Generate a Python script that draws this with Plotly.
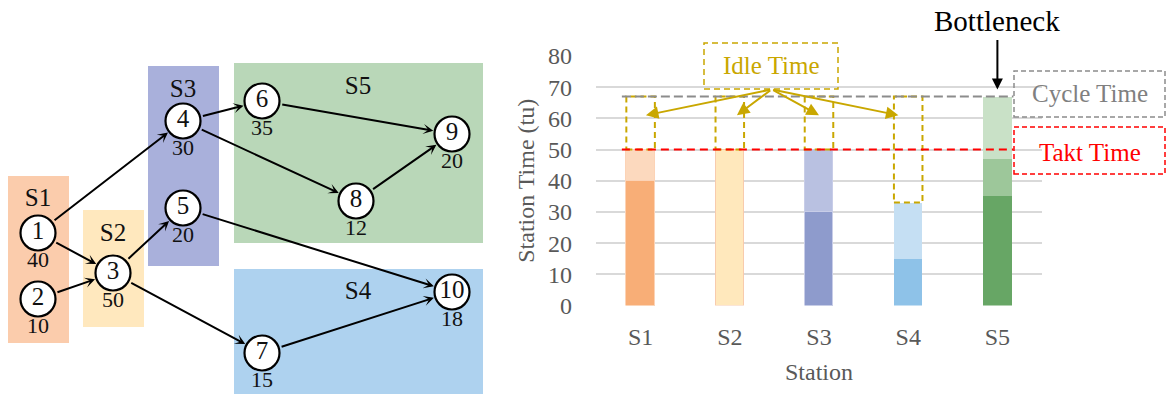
import plotly.graph_objects as go

W, H = 1168, 394
FONT = "Liberation Serif, Times New Roman, serif"
GOLD = "#C9A700"

# ---- precedence graph -------------------------------------------------
task_ids = [1, 2, 3, 4, 5, 6, 7, 8, 9, 10]
task_times = [40, 10, 50, 30, 20, 35, 15, 12, 20, 18]
node_x = [38, 38, 113, 183, 183, 262, 262, 356, 452, 452]
node_y = [233, 299, 273, 121, 208, 101, 353, 201, 134, 292]
edges = [(1, 3), (1, 4), (2, 3), (3, 5), (3, 7), (4, 6), (4, 8),
         (5, 10), (6, 9), (8, 9), (7, 10)]

# ---- stations ---------------------------------------------------------
stations = ["S1", "S2", "S3", "S4", "S5"]
station_tasks = [[1, 2], [3], [4, 5], [7, 10], [6, 8, 9]]
area_x0 = [8, 83, 148, 234, 234]
area_x1 = [69, 144, 219, 483, 483]
area_y0 = [176, 210, 66, 269, 63]
area_y1 = [343, 327, 266, 394, 243]
area_label_x = [38, 113, 183, 358, 358]
area_label_y = [200, 235, 91, 293, 88]
area_colors = ["#FBCCAC", "#FFE8BE", "#A9B0DB", "#AED2EF", "#B9D7B8"]

# bar segment colours, bottom to top
segment_colors = [["#F8AE77", "#FCD9BE"],
                  ["#FFE8BC"],
                  ["#8E9BCC", "#B9C1E1"],
                  ["#8EC2E8", "#C5DFF3"],
                  ["#67A665", "#9DC79A", "#C9E1C7"]]
bar_edge_colors = ["#FCD3B6", "#F8CBAD", "#C8CDE8", "#C5DFF3", "#C9E1C7"]
bar_edge_widths = [1, 1.5, 1, 0, 0]

takt_time = 50
y_ticks = [0, 10, 20, 30, 40, 50, 60, 70, 80]

time_of = dict(zip(task_ids, task_times))
station_totals = [sum(time_of[t] for t in ts) for ts in station_tasks]
cycle_time = max(station_totals)
bottleneck = station_totals.index(cycle_time)

# idle-time arrow tips (offset within each idle box, value level)
idle_tip_dx = [0.06, 0.08, 0.0, -0.11, 0.0]
idle_tip_y = 61
idle_tail = (1.47, 69.3)

BAR_W = 0.32


def px(x):
    return x / W


def py(y):
    return 1 - y / H


fig = go.Figure()

# station areas behind the graph
for i in range(len(stations)):
    fig.add_shape(type="rect", xref="x2", yref="y2",
                  x0=area_x0[i], x1=area_x1[i], y0=area_y0[i], y1=area_y1[i],
                  fillcolor=area_colors[i], line_width=0, layer="below")

fig.add_trace(go.Scatter(
    x=area_label_x, y=area_label_y, xaxis="x2", yaxis="y2",
    mode="text", text=stations, textposition="middle center",
    textfont=dict(family=FONT, size=25, color="#111111"),
    hoverinfo="skip", showlegend=False))

# task nodes
fig.add_trace(go.Scatter(
    x=node_x, y=node_y, xaxis="x2", yaxis="y2",
    mode="markers+text", text=[str(t) for t in task_ids],
    textposition="middle center",
    textfont=dict(family=FONT, size=25, color="#111111"),
    marker=dict(size=35, color="white", line=dict(color="black", width=2.2)),
    hoverinfo="skip", showlegend=False))

# task times under nodes
fig.add_trace(go.Scatter(
    x=node_x, y=[y + 28 for y in node_y], xaxis="x2", yaxis="y2",
    mode="text", text=[str(t) for t in task_times],
    textposition="middle center",
    textfont=dict(family=FONT, size=22, color="#111111"),
    hoverinfo="skip", showlegend=False))

for a, b in edges:
    fig.add_annotation(
        xref="x2", yref="y2", axref="x2", ayref="y2",
        x=node_x[b - 1], y=node_y[b - 1], ax=node_x[a - 1], ay=node_y[a - 1],
        text="", showarrow=True, arrowhead=3, arrowsize=0.85, arrowwidth=2,
        arrowcolor="black", standoff=19, startstandoff=19)

# ---- stacked station-time bars ---------------------------------------
n_layers = max(len(ts) for ts in station_tasks)
for k in range(n_layers):
    vals, cols, lcols, lws = [], [], [], []
    for s, ts in enumerate(station_tasks):
        if k < len(ts):
            vals.append(time_of[ts[k]])
            cols.append(segment_colors[s][k])
            lcols.append(bar_edge_colors[s])
            lws.append(bar_edge_widths[s])
        else:
            vals.append(None)
            cols.append("rgba(0,0,0,0)")
            lcols.append("rgba(0,0,0,0)")
            lws.append(0)
    fig.add_trace(go.Bar(
        x=stations, y=vals, width=BAR_W,
        marker=dict(color=cols, line=dict(color=lcols, width=lws)),
        hoverinfo="skip", showlegend=False))

# idle-time boxes between station time and cycle time
for i, tot in enumerate(station_totals):
    if tot < cycle_time:
        fig.add_shape(type="rect", xref="x", yref="y",
                      x0=i - BAR_W / 2, x1=i + BAR_W / 2, y0=tot, y1=cycle_time,
                      line=dict(color=GOLD, width=2, dash="6px,4px"))

# cycle time and takt time lines
line_x0 = -0.21
line_x1 = bottleneck + 0.18
fig.add_shape(type="line", xref="x", yref="y", x0=line_x0, x1=line_x1,
              y0=cycle_time, y1=cycle_time,
              line=dict(color="#8C8C8C", width=2, dash="9px,4px"))
fig.add_shape(type="line", xref="x", yref="y", x0=line_x0, x1=line_x1,
              y0=takt_time, y1=takt_time,
              line=dict(color="#FF0000", width=2, dash="8px,5px"))

# callout boxes
fig.add_shape(type="rect", xref="paper", yref="paper",
              x0=px(1014), x1=px(1165), y0=py(117), y1=py(71),
              line=dict(color="#8C8C8C", width=1.5, dash="5px,3px"))
fig.add_annotation(xref="paper", yref="paper", x=px(1090), y=py(94),
                   xanchor="center", yanchor="middle",
                   text="Cycle Time", showarrow=False,
                   font=dict(family=FONT, size=25, color="#808080"))
fig.add_shape(type="rect", xref="paper", yref="paper",
              x0=px(1014), x1=px(1165), y0=py(174), y1=py(127),
              line=dict(color="#FF0000", width=1.5, dash="5px,3px"))
fig.add_annotation(xref="paper", yref="paper", x=px(1090), y=py(152),
                   xanchor="center", yanchor="middle",
                   text="Takt Time", showarrow=False,
                   font=dict(family=FONT, size=25, color="#FF0000"))
fig.add_shape(type="rect", xref="paper", yref="paper",
              x0=px(704), x1=px(838), y0=py(89), y1=py(43),
              line=dict(color=GOLD, width=1.5, dash="6px,4px"))
fig.add_annotation(xref="paper", yref="paper", x=px(771), y=py(66),
                   xanchor="center", yanchor="middle",
                   text="Idle Time", showarrow=False,
                   font=dict(family=FONT, size=25, color=GOLD))

for i, tot in enumerate(station_totals):
    if tot < cycle_time:
        fig.add_annotation(
            xref="x", yref="y", axref="x", ayref="y",
            x=i + idle_tip_dx[i], y=idle_tip_y,
            ax=idle_tail[0], ay=idle_tail[1],
            text="", showarrow=True, arrowhead=2, arrowsize=1.25,
            arrowwidth=2, arrowcolor=GOLD)

# bottleneck marker
fig.add_annotation(xref="x", yref="y", x=bottleneck, y=cycle_time,
                   ax=0, ay=-76, text="Bottleneck", showarrow=True,
                   arrowhead=2, arrowsize=1.1, arrowwidth=2,
                   arrowcolor="black", standoff=7, borderpad=3,
                   font=dict(family=FONT, size=29, color="black"))

fig.update_layout(
    width=W, height=H,
    margin=dict(l=0, r=0, t=0, b=0, autoexpand=False),
    paper_bgcolor="white", plot_bgcolor="rgba(0,0,0,0)",
    barmode="stack", bargap=0,
    font=dict(family=FONT, color="#595959"),
    xaxis=dict(domain=[px(596), px(1042)], range=[-0.5, 4.5],
               type="category", categoryarray=stations,
               showgrid=False, zeroline=False, showline=False, ticks="",
               ticklabelstandoff=14, automargin=False,
               tickfont=dict(family=FONT, size=24, color="#595959"),
               title=dict(text="Station", standoff=14,
                          font=dict(family=FONT, size=24, color="#595959")),
               fixedrange=True),
    yaxis=dict(domain=[py(305.5), py(56)], range=[0, 80],
               tickvals=y_ticks, showgrid=True, gridcolor="#D9D9D9",
               gridwidth=1.5, zeroline=False, showline=False, ticks="",
               ticklabelstandoff=23, automargin=False,
               tickfont=dict(family=FONT, size=24, color="#595959"),
               title=dict(text="Station Time (tu)", standoff=6,
                          font=dict(family=FONT, size=24, color="#595959")),
               fixedrange=True),
    xaxis2=dict(domain=[0, px(490)], range=[0, 490], visible=False,
                fixedrange=True, anchor="y2"),
    yaxis2=dict(domain=[0, 1], range=[H, 0], visible=False,
                fixedrange=True, anchor="x2"),
)

fig.write_html("out.html")
